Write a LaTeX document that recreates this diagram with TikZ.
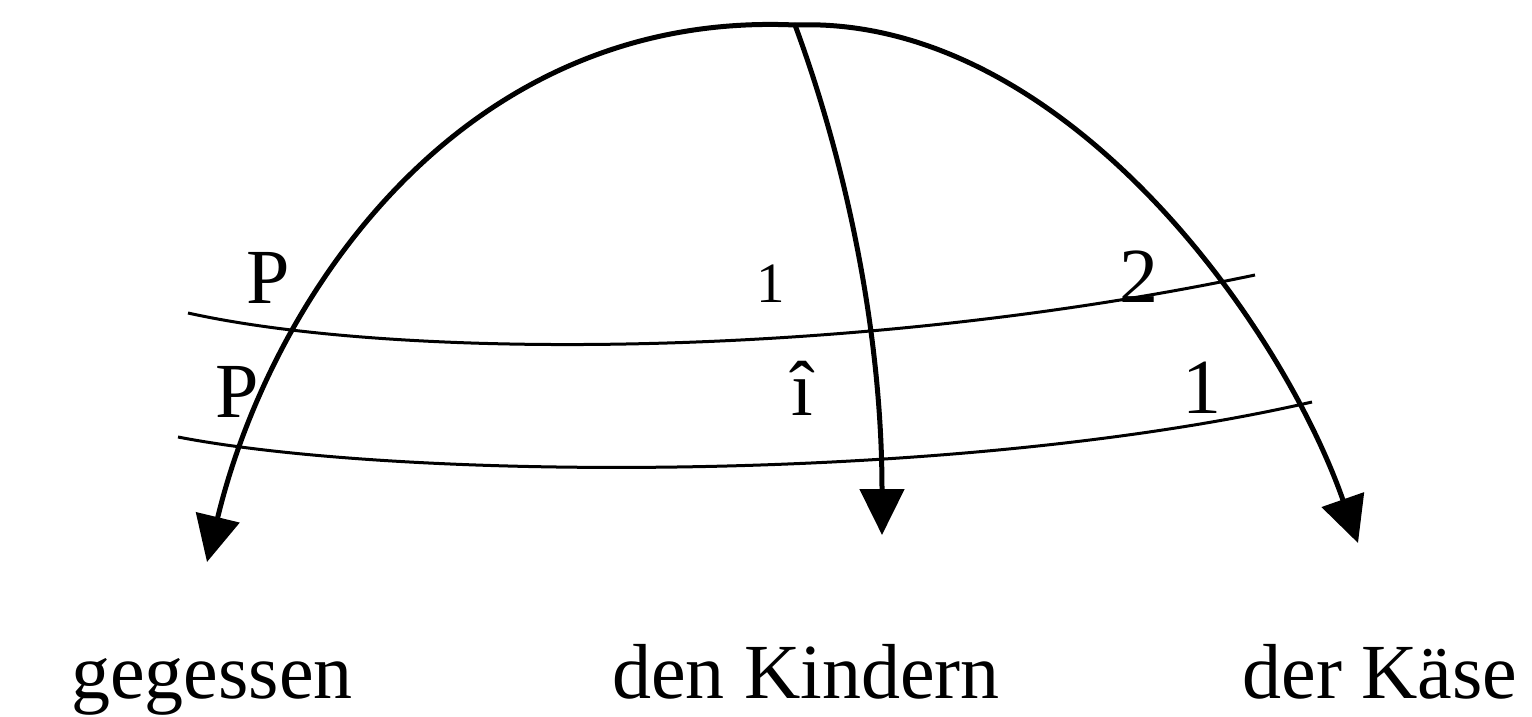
\documentclass[tikz,border=0pt]{standalone}
\usepackage{fontspec}
\setmainfont{Liberation Serif}
\usetikzlibrary{arrows.meta}
\tikzset{
  word/.style={anchor=base, inner sep=0pt, font=\fontsize{78}{90}\selectfont},
  lab/.style={anchor=base, inner sep=0pt, font=\fontsize{78}{90}\selectfont},
  smalllab/.style={anchor=base, inner sep=0pt, font=\fontsize{57}{66}\selectfont},
  arc/.style={line width=5pt, -{Triangle[length=46pt,width=44pt]}},
  tier/.style={line width=3pt}
}
\begin{document}
\begin{tikzpicture}[x=1pt,y=-1pt]
\useasboundingbox (0,0) rectangle (1532,717);
% words
\node[word] (w1) at (212,698) {gegessen};
\node[word] (w2) at (806,698) {den Kindern};
\node[word] (w3) at (1380,698) {der Käse};
% arrow ends
\coordinate (top) at (795,25);
\coordinate (e1) at (207,562);
\coordinate (e2) at (882,535);
\coordinate (e3) at (1358,543);
% tier lines
\coordinate (u1) at (188,313);
\coordinate (u2) at (1255,275);
\coordinate (l1) at (178,437);
\coordinate (l2) at (1312,402);
\draw[tier] (u1) .. controls (400,360) and (850,360) .. (u2);
\draw[tier] (l1) .. controls (400,480) and (950,485) .. (l2);
% arrows
\draw[arc] (top) .. controls (460,10) and (270,300) .. (e1);
\draw[arc] (top) .. controls (845,160) and (882,330) .. (e2);
\draw[arc] (top) .. controls (1060,15) and (1280,320) .. (e3);
% labels
\node[lab] (p1) at (268,303) {P};
\node[lab] (p2) at (237,417) {P};
\node[smalllab] (a1) at (771,302) {1};
\node[lab] (a2) at (802,415) {î};
\node[lab] (b1) at (1139,302) {2};
\node[lab] (b2) at (1202,413) {1};
\end{tikzpicture}
\end{document}
